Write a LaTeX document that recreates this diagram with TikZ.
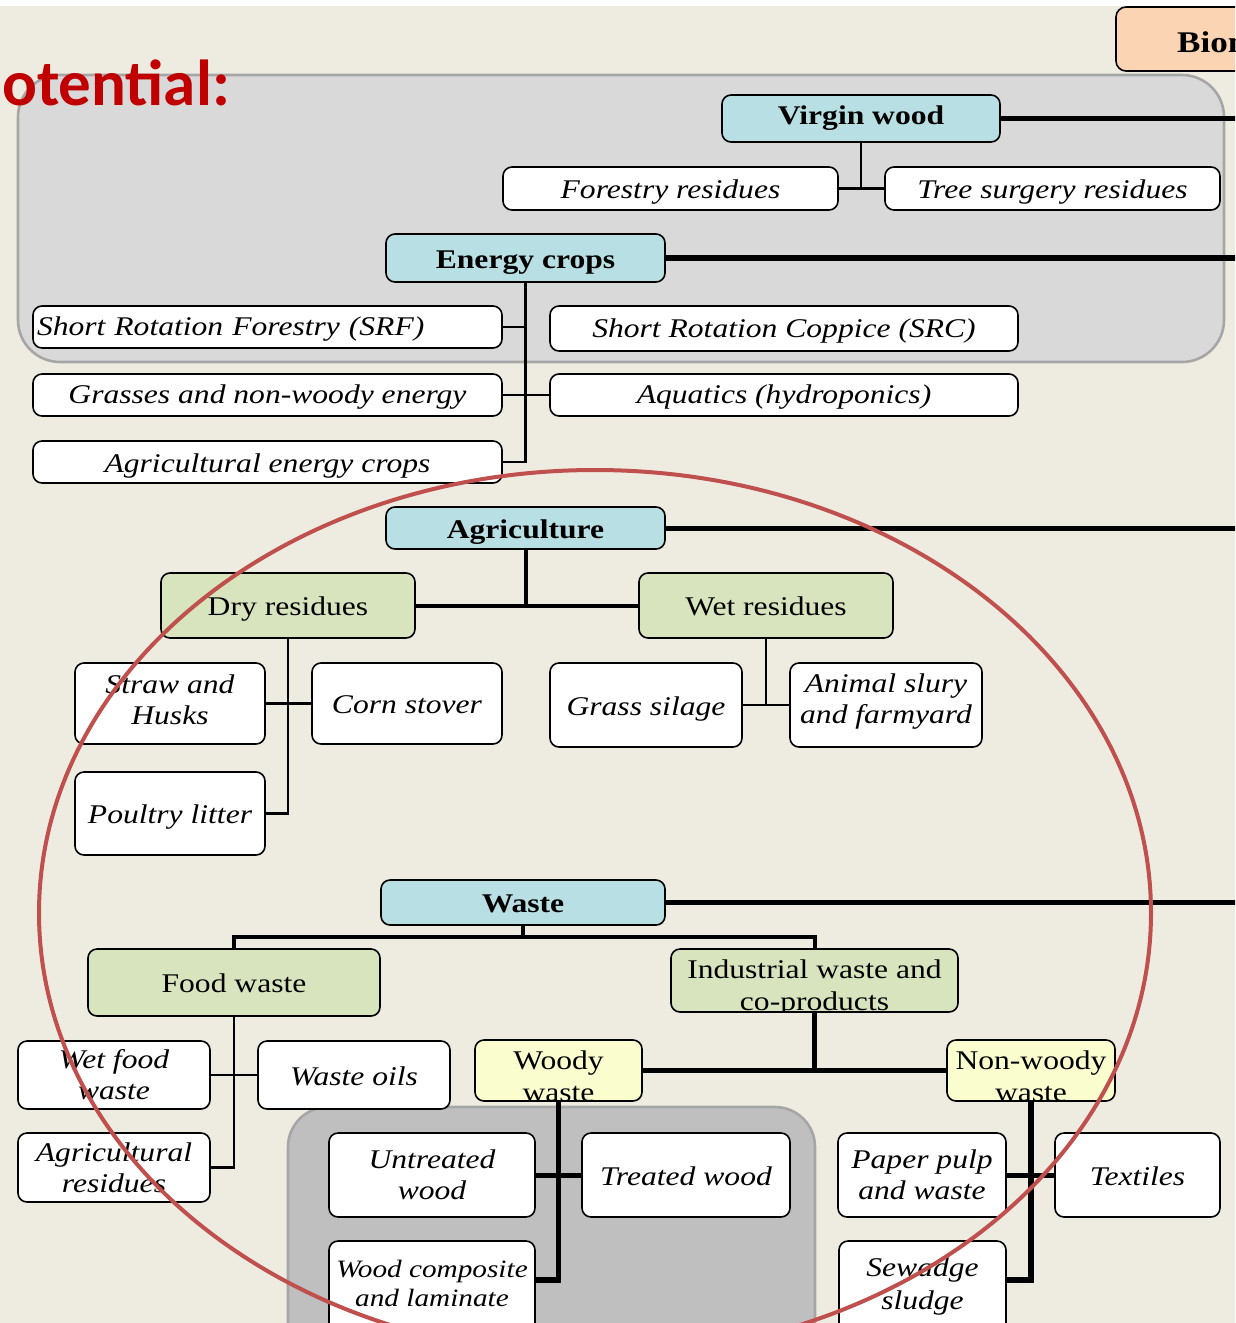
\documentclass[tikz,border=0pt]{standalone}
\usepackage{fontspec}
\setmainfont{Liberation Serif}[FakeStretch=1.17]
\newfontfamily\titlefont{Carlito}
\usetikzlibrary{calc}
\definecolor{bgc}{HTML}{EEECE1}
\definecolor{cyanc}{HTML}{B8DFE3}
\definecolor{greenc}{HTML}{D7E4BD}
\definecolor{yellc}{HTML}{FAFDCD}
\definecolor{peachc}{HTML}{FBD4B4}
\definecolor{lgrey}{HTML}{D9D9D9}
\definecolor{dgrey}{HTML}{BFBFBF}
\definecolor{pbord}{HTML}{A6A6A6}
\definecolor{ellc}{HTML}{C0504D}
\definecolor{titc}{HTML}{C00000}
\begin{document}
\begin{tikzpicture}[x=1pt,y=-1pt,
  box/.style={draw=black, line width=1.6pt, rounded corners=9pt, inner sep=0pt, align=center},
  wbox/.style={box, fill=white, font=\fontsize{27}{31}\selectfont\itshape},
  cbox/.style={box, fill=cyanc, font=\fontsize{27}{31}\selectfont\bfseries},
  gbox/.style={box, fill=greenc, font=\fontsize{27}{31}\selectfont},
  ybox/.style={box, fill=yellc, font=\fontsize{27}{31}\selectfont},
  one/.style={text height=20pt, text depth=0pt},
  onelow/.style={text height=17pt, text depth=0pt},
  uptxt/.style={inner sep=0pt, anchor=base, font=\fontsize{27}{31}\selectfont},
  con/.style={line width=2.4pt},
  mcon/.style={line width=4pt},
  tcon/.style={line width=5.5pt},
  panel/.style={draw=pbord, line width=2.6pt, rounded corners=42pt}
]
\useasboundingbox (0,0) rectangle (1235,1323);
\clip (0,0) rectangle (1235,1323);
\fill[bgc] (0,0) rectangle (1235,1323);
\fill[white] (0,0) rectangle (1235,6);
\coordinate (R) at (1245,0);

% panels
\draw[panel, fill=lgrey] (18,75) rectangle (1224,362);
\draw[panel, fill=dgrey, rounded corners=40pt] (288,1107) rectangle (815,1380);

% peach box
\node[box, fill=peachc, minimum width=150pt, minimum height=64pt, rounded corners=10pt] (bio) at (1191,39) {};
\node[inner sep=0pt, anchor=base west, font=\fontsize{30}{34}\selectfont\bfseries] (biot) at (1177,52) {Biomass};

% title
\node[inner sep=0pt, anchor=base west, text=titc, font=\titlefont\fontsize{65}{72}\selectfont\bfseries] (title) at (2,105) {otential:};

% virgin wood
\node[cbox, minimum width=278pt, minimum height=47pt] (vw) at (861,118.5) {Virgin wood};
\node[wbox, one, minimum width=335pt, minimum height=43pt] (fr) at (670.5,188.5) {Forestry residues};
\node[wbox, one, minimum width=335pt, minimum height=43pt] (ts) at (1052.5,188.5) {Tree surgery residues};

% energy crops
\node[cbox, one, minimum width=279pt, minimum height=48pt] (ec) at (525.5,258) {Energy crops};
\node[wbox, onelow, text width=461pt, inner xsep=4pt, align=left, minimum height=42pt] (srf) at (267.5,327) {Short Rotation Forestry (SRF)};
\node[wbox, onelow, minimum width=468pt, minimum height=45pt] (src) at (784,328.5) {Short Rotation Coppice (SRC)};
\node[wbox, onelow, minimum width=469pt, minimum height=42pt] (gr) at (267.5,395) {Grasses and non-woody energy};
\node[wbox, onelow, minimum width=468pt, minimum height=42pt] (aq) at (784,395) {Aquatics (hydroponics)};
\node[wbox, one, minimum width=469pt, minimum height=42pt] (aec) at (267.5,462) {Agricultural energy crops};

% agriculture
\node[cbox, one, minimum width=279pt, minimum height=42pt] (ag) at (525.5,528) {Agriculture};
\node[gbox, one, minimum width=254pt, minimum height=65pt] (dry) at (288,605.5) {Dry residues};
\node[gbox, one, minimum width=254pt, minimum height=65pt] (wet) at (766,605.5) {Wet residues};
\node[wbox, text depth=8pt, minimum width=190pt, minimum height=81pt] (sh) at (170,703.5) {Straw and\\Husks};
\node[wbox, one, minimum width=190pt, minimum height=81pt] (cs) at (407,703.5) {Corn stover};
\node[wbox, one, minimum width=190pt, minimum height=83pt] (pl) at (170,813.5) {Poultry litter};
\node[wbox, one, minimum width=192pt, minimum height=84pt] (gs) at (646,705) {Grass silage};
\node[wbox, text depth=12pt, minimum width=192pt, minimum height=84pt] (as) at (886,705) {Animal slury\\and farmyard};

% waste
\node[cbox, one, minimum width=284pt, minimum height=45pt] (ws) at (523,902.5) {Waste};
\node[gbox, one, minimum width=292pt, minimum height=67pt] (fw) at (234,982.5) {Food waste};
\node[gbox, minimum width=287pt, minimum height=63pt] (iw) at (814.5,980.5) {};
\begin{scope}
  \clip (673,951) rectangle (956,1011);
  \node[uptxt] (iwt1) at (814.5,978) {Industrial waste and};
  \node[uptxt] (iwt2) at (814.5,1010) {co-products};
\end{scope}
\node[wbox, minimum width=192pt, minimum height=68pt] (wf) at (114,1075) {Wet food\\waste};
\node[wbox, one, minimum width=192pt, minimum height=68pt] (wo) at (354,1075) {Waste oils};
\node[wbox, minimum width=192pt, minimum height=69pt] (ar) at (114,1167.5) {Agricultural\\residues};

\node[ybox, minimum width=167pt, minimum height=61pt] (wd) at (558.5,1070.5) {};
\node[ybox, minimum width=168pt, minimum height=61pt] (nw) at (1031,1070.5) {};
\begin{scope}
  \clip (477,1042) rectangle (640,1100);
  \node[uptxt] (wdt1) at (558.5,1069) {Woody};
  \node[uptxt] (wdt2) at (558.5,1101) {waste};
\end{scope}
\begin{scope}
  \clip (949,1042) rectangle (1113,1100);
  \node[uptxt] (nwt1) at (1031,1069) {Non-woody};
  \node[uptxt] (nwt2) at (1031,1101) {waste};
\end{scope}

\node[wbox, minimum width=206pt, minimum height=84pt] (ut) at (432,1175) {Untreated\\wood};
\node[wbox, one, minimum width=208pt, minimum height=84pt] (tw) at (686,1175) {Treated wood};
\node[wbox, text depth=6pt, minimum width=206pt, minimum height=91pt, font=\fontsize{25}{29}\selectfont\itshape] (wc) at (432,1286.5) {Wood composite\\and laminate};
\node[wbox, minimum width=168pt, minimum height=84pt] (pp) at (922,1175) {Paper pulp\\and waste};
\node[wbox, one, minimum width=165pt, minimum height=84pt] (tx) at (1137.5,1175) {Textiles};
\node[wbox, minimum width=167pt, minimum height=91pt, font=\fontsize{27}{33}\selectfont\itshape] (sw) at (922.5,1286.5) {Sewadge\\sludge};

% connectors
\draw[tcon] (vw.east) -- (vw.east -| R);
\draw[con] (vw.south) -- (vw.south |- fr.east);
\draw[con] (fr.east) -- (ts.west);

\draw[tcon] (ec.east) -- (ec.east -| R);
\draw[con] (ec.south) -- (ec.south |- aec.east) -- (aec.east);
\draw[con] (srf.east) -- (srf.east -| ec.south);
\draw[con] (gr.east) -- (aq.west);

\draw[tcon, line width=5pt] (ag.east) -- (ag.east -| R);
\draw[mcon] (ag.south) -- (ag.south |- dry.east);
\draw[mcon] (dry.east) -- (wet.west);
\draw[con] (dry.south) -- (dry.south |- pl.east) -- (pl.east);
\draw[con] (sh.east) -- (cs.west);
\draw[con] (wet.south) -- (wet.south |- gs.east);
\draw[con] (gs.east) -- (as.west);

\draw[tcon, line width=5pt] (ws.east) -- (ws.east -| R);
\coordinate (wsj) at (523,937);
\draw[mcon] (ws.south) -- (wsj);
\draw[mcon] (fw.north) |- (wsj) -| (iw.north);
\draw[con] (fw.south) -- (fw.south |- ar.east) -- (ar.east);
\draw[con] (wf.east) -- (wo.west);
\draw[tcon] (iw.south) -- (iw.south |- wd.east);
\draw[tcon] (wd.east) -- (nw.west);

\coordinate (wcj) at ($(wc.north east)+(0,40)$);
\coordinate (swj) at ($(sw.north east)+(0,40)$);
\draw[tcon] (wd.south) -- (wd.south |- wcj) -- (wcj);
\draw[tcon, line width=5pt] (ut.east) -- (tw.west);
\draw[tcon] (nw.south) -- (nw.south |- swj) -- (swj);
\draw[tcon, line width=5pt] (pp.east) -- (tx.west);

% red ellipse
\draw[ellc, line width=4pt] (595,913) ellipse [x radius=556pt, y radius=443pt];
\end{tikzpicture}
\end{document}
